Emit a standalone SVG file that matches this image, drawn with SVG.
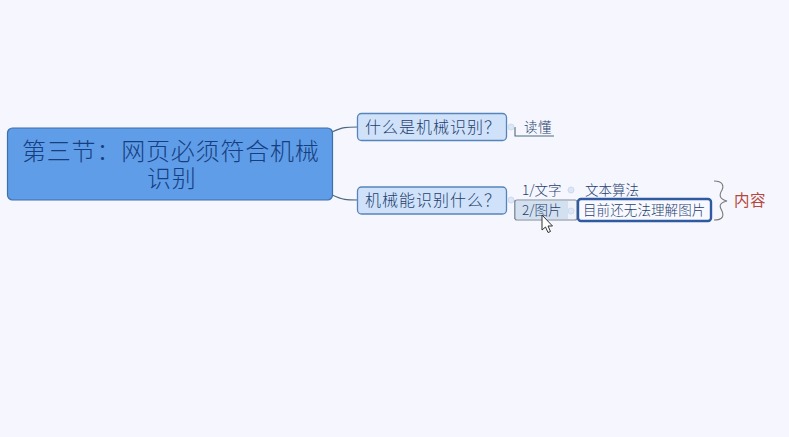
<svg xmlns="http://www.w3.org/2000/svg" width="789" height="437" viewBox="0 0 789 437">
<style>
text{font-family:"Noto Sans CJK SC","Noto Sans",sans-serif;font-weight:300;fill:#1f3f6e}
.c{fill:none;stroke:#4d6a80;stroke-width:1.100}
.dot{fill:#dde6f4;stroke:#cddbee;stroke-width:1}
.sub{fill:#cfe2fa;stroke:#5585ba;stroke-width:1.300}
.s{font-size:13.500px}
.m{font-size:16px;letter-spacing:1px}
</style>
<rect width="789" height="437" fill="#f5f6fe"/>
<g id="connectors">
<path class="c" d="M332 132C343 127 346 127 358 127"/>
<path class="c" d="M332 195C343 200 346 200 358 200"/>
<path class="c" d="M515 127V136H554"/>
<path class="c" d="M515 200V219"/>
</g>
<g id="root">
<rect x="7.500" y="128" width="325" height="72" rx="5" fill="#5f9de8" stroke="#3f6fa8" stroke-width="1.200"/>
<text x="22" y="160" font-size="24" style="fill:#173f80;letter-spacing:.8px">第三节：网页必须符合机械</text>
<text x="147" y="187" font-size="24" style="fill:#173f80;letter-spacing:.8px">识别</text>
</g>
<g id="topic1">
<rect class="sub" x="357.500" y="113.500" width="149" height="27" rx="4"/>
<text class="m" x="365" y="133">什么是机械识别？</text>
<circle class="dot" cx="511" cy="127" r="3"/>
</g>
<g id="leaf-dudong">
<text class="s" x="524" y="132" style="letter-spacing:.6px">读懂</text>
</g>
<g id="topic2">
<rect class="sub" x="357.500" y="187" width="149" height="27" rx="4"/>
<text class="m" x="365" y="206">机械能识别什么？</text>
<circle class="dot" cx="511" cy="200" r="3"/>
</g>
<g id="leaf-wenzi">
<text class="s" x="522" y="195">1/文字</text>
<circle class="dot" cx="571" cy="190" r="3"/>
</g>
<g id="leaf-suanfa">
<text class="s" x="585" y="195">文本算法</text>
</g>
<g id="leaf-tupian">
<rect x="515" y="200" width="62" height="20" rx="2" fill="#eef1f8" stroke="#7d8a98" stroke-width="1.100"/>
<rect x="516" y="201" width="52" height="18" fill="#d3e0f0"/>
<text class="s" x="522" y="215">2/图片</text>
<circle class="dot" cx="571" cy="211" r="3"/>
</g>
<g id="leaf-selected">
<rect x="578" y="199" width="133" height="22" rx="3" fill="#f8f9ff" stroke="#2f5aa0" stroke-width="2.400"/>
<text class="s" x="583" y="215" style="letter-spacing:.1px">目前还无法理解图片</text>
</g>
<g id="brace">
<path d="M714 181C723 181 724 186 722 190C719 195 719 199 727 201C719 203 719 206 722 211C724 216 723 220 714 220" fill="none" stroke="#7a7a7a" stroke-width="1.100"/>
</g>
<g id="label-neirong">
<text x="734" y="206" font-size="15.500" style="fill:#b5483c;letter-spacing:.6px;font-weight:400">内容</text>
</g>
<path id="cursor" d="M542 215V230L545.500 227L548 232.500L550.500 231.500L548 226L552.500 226Z" fill="#fff" stroke="#333" stroke-width="1"/>
</svg>
